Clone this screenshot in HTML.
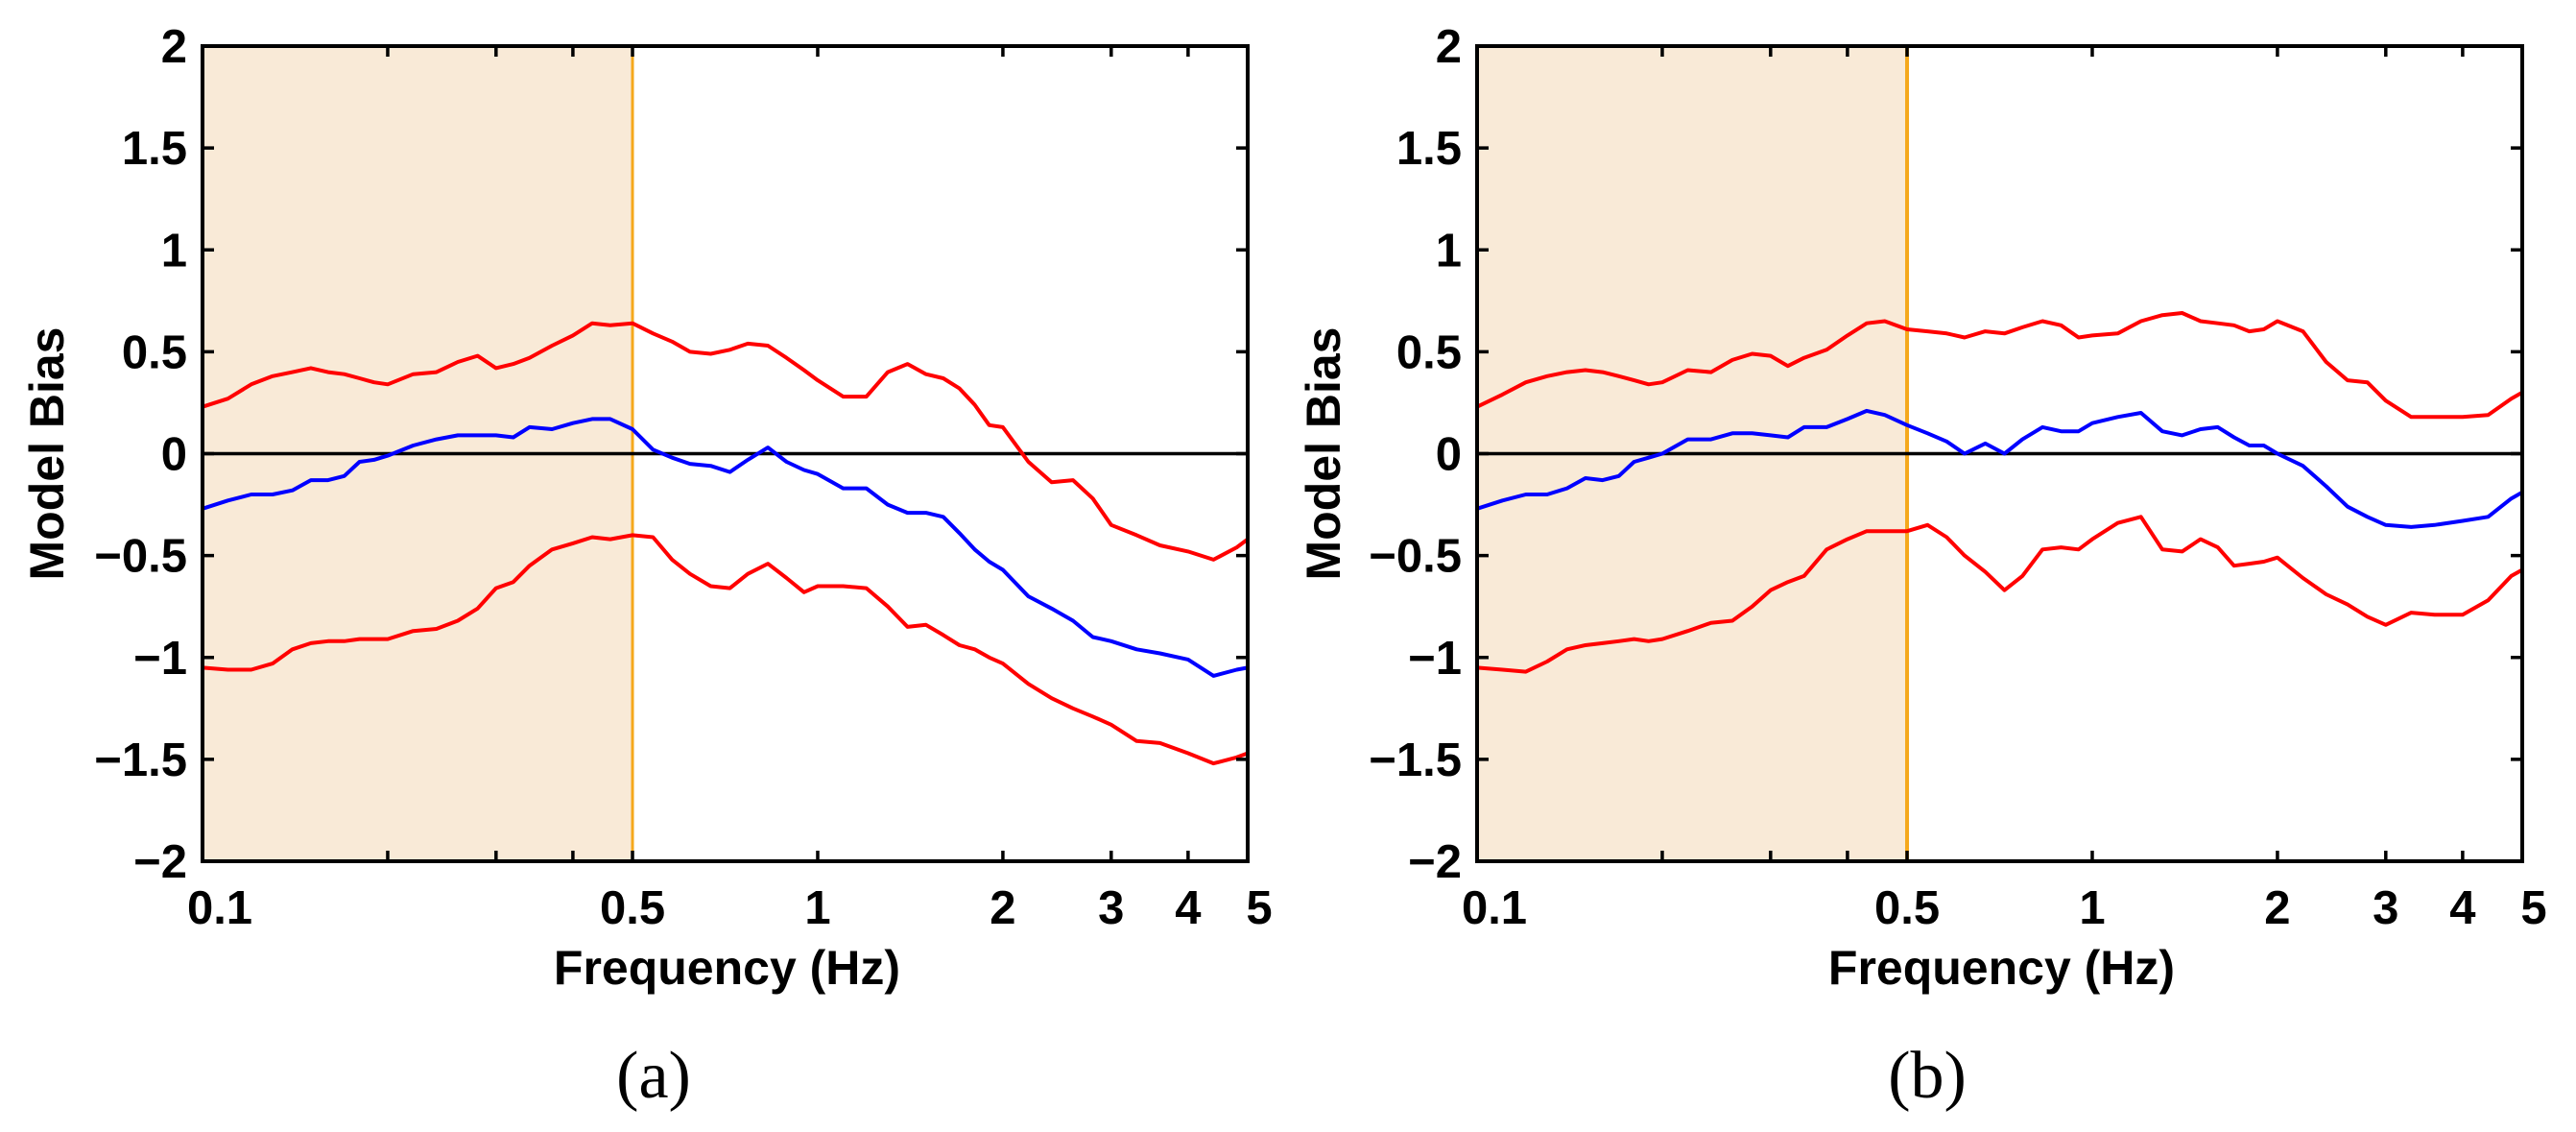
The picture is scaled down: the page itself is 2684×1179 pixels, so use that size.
<!DOCTYPE html>
<html><head><meta charset="utf-8"><style>
html,body{margin:0;padding:0;background:#fff;}
svg{display:block;}
.tk{font-family:"Liberation Sans",sans-serif;font-weight:bold;font-size:49px;fill:#000;}
.ttl{font-family:"Liberation Sans",sans-serif;font-weight:bold;font-size:50px;fill:#000;}
.cap{font-family:"Liberation Serif",serif;font-size:70px;fill:#000;}
</style></head><body>
<svg id="chart" width="2684" height="1179" viewBox="0 0 2684 1179" xmlns="http://www.w3.org/2000/svg"></svg>
<script>
const freqs=[0.10,0.11,0.12,0.13,0.14,0.15,0.16,0.17,0.18,0.19,0.20,0.22,0.24,0.26,0.28,0.30,0.32,0.34,0.37,0.40,0.43,0.46,0.50,0.54,0.58,0.62,0.67,0.72,0.77,0.83,0.89,0.95,1.0,1.1,1.2,1.3,1.4,1.5,1.6,1.7,1.8,1.9,2.0,2.2,2.4,2.6,2.8,3.0,3.3,3.6,4.0,4.4,4.8,5.0];
const aUpper=[0.23,0.27,0.34,0.38,0.40,0.42,0.40,0.39,0.37,0.35,0.34,0.39,0.40,0.45,0.48,0.42,0.44,0.47,0.53,0.58,0.64,0.63,0.64,0.59,0.55,0.50,0.49,0.51,0.54,0.53,0.47,0.41,0.36,0.28,0.28,0.40,0.44,0.39,0.37,0.32,0.24,0.14,0.13,-0.04,-0.14,-0.13,-0.22,-0.35,-0.40,-0.45,-0.48,-0.52,-0.46,-0.42];
const aMean=[-0.27,-0.23,-0.20,-0.20,-0.18,-0.13,-0.13,-0.11,-0.04,-0.03,-0.01,0.04,0.07,0.09,0.09,0.09,0.08,0.13,0.12,0.15,0.17,0.17,0.12,0.02,-0.02,-0.05,-0.06,-0.09,-0.03,0.03,-0.04,-0.08,-0.10,-0.17,-0.17,-0.25,-0.29,-0.29,-0.31,-0.39,-0.47,-0.53,-0.57,-0.70,-0.76,-0.82,-0.90,-0.92,-0.96,-0.98,-1.01,-1.09,-1.06,-1.05];
const aLower=[-1.05,-1.06,-1.06,-1.03,-0.96,-0.93,-0.92,-0.92,-0.91,-0.91,-0.91,-0.87,-0.86,-0.82,-0.76,-0.66,-0.63,-0.55,-0.47,-0.44,-0.41,-0.42,-0.40,-0.41,-0.52,-0.59,-0.65,-0.66,-0.59,-0.54,-0.61,-0.68,-0.65,-0.65,-0.66,-0.75,-0.85,-0.84,-0.89,-0.94,-0.96,-1.00,-1.03,-1.13,-1.20,-1.25,-1.29,-1.33,-1.41,-1.42,-1.47,-1.52,-1.49,-1.47];
const bUpper=[0.23,0.29,0.35,0.38,0.40,0.41,0.40,0.38,0.36,0.34,0.35,0.41,0.40,0.46,0.49,0.48,0.43,0.47,0.51,0.58,0.64,0.65,0.61,0.60,0.59,0.57,0.60,0.59,0.62,0.65,0.63,0.57,0.58,0.59,0.65,0.68,0.69,0.65,0.64,0.63,0.60,0.61,0.65,0.60,0.45,0.36,0.35,0.26,0.18,0.18,0.18,0.19,0.27,0.30];
const bMean=[-0.27,-0.23,-0.20,-0.20,-0.17,-0.12,-0.13,-0.11,-0.04,-0.02,0.00,0.07,0.07,0.10,0.10,0.09,0.08,0.13,0.13,0.17,0.21,0.19,0.14,0.10,0.06,0.00,0.05,0.00,0.07,0.13,0.11,0.11,0.15,0.18,0.20,0.11,0.09,0.12,0.13,0.08,0.04,0.04,0.00,-0.06,-0.16,-0.26,-0.31,-0.35,-0.36,-0.35,-0.33,-0.31,-0.22,-0.19];
const bLower=[-1.05,-1.06,-1.07,-1.02,-0.96,-0.94,-0.93,-0.92,-0.91,-0.92,-0.91,-0.87,-0.83,-0.82,-0.75,-0.67,-0.63,-0.60,-0.47,-0.42,-0.38,-0.38,-0.38,-0.35,-0.41,-0.50,-0.58,-0.67,-0.60,-0.47,-0.46,-0.47,-0.42,-0.34,-0.31,-0.47,-0.48,-0.42,-0.46,-0.55,-0.54,-0.53,-0.51,-0.61,-0.69,-0.74,-0.80,-0.84,-0.78,-0.79,-0.79,-0.72,-0.60,-0.57];
const yTicks=[-2,-1.5,-1,-0.5,0,0.5,1,1.5,2];
const yTickLabels=["\u22122","\u22121.5","\u22121","\u22120.5","0","0.5","1","1.5","2"];
const xLabelVals=[0.1,0.5,1,2,3,4,5];
const xLabelText=["0.1","0.5","1","2","3","4","5"];
const xTickVals=[0.2,0.3,0.4,0.5,1,2,3,4];
const shadeEnd=0.5;

const NS="http://www.w3.org/2000/svg";
const svg=document.getElementById('chart');
function mk(tag,attrs,parent){const e=document.createElementNS(NS,tag);for(const k in attrs)e.setAttribute(k,attrs[k]);(parent||svg).appendChild(e);return e;}

const Y0=48,Y1=897;
function panel(id,X0,X1,series,cap,orangeW,yLabX,capX){
  const g=mk('g',{});
  
  
  const xs=f=>X0+(Math.log10(f)-Math.log10(0.1))/(Math.log10(5)-Math.log10(0.1))*(X1-X0);
  const ys=v=>Y1-(v+2)/4*(Y1-Y0);
  const sh=mk('rect',{x:X0,y:Y0,width:xs(shadeEnd)-X0,height:Y1-Y0,fill:'#f9ead7'},g);
  
  
  const ol=mk('line',{x1:xs(shadeEnd),x2:xs(shadeEnd),y1:Y0,y2:Y1,stroke:'#f5a81c','stroke-width':orangeW},g);
  
  
  const zl=mk('line',{x1:X0,x2:X1,y1:ys(0),y2:ys(0),stroke:'#000','stroke-width':3.5},g);
  
  
  const cols=['#ff0000','#0000ff','#ff0000'];
  const names=['upper-bound-line','mean-bias-line','lower-bound-line'];
  series.forEach((s,i)=>{
    const d=s.map((v,j)=>(j?'L':'M')+xs(freqs[j]).toFixed(1)+' '+ys(v).toFixed(1)).join(' ');
    const p=mk('path',{d:d,fill:'none',stroke:cols[i],'stroke-width':4,'stroke-linejoin':'round'},g);
    
    
  });
  const fr=mk('rect',{x:X0,y:Y0,width:X1-X0,height:Y1-Y0,fill:'none',stroke:'#000','stroke-width':4},g);
  
  
  yTicks.forEach((v,i)=>{
    const y=ys(v);
    mk('line',{x1:X0,x2:X0+12,y1:y,y2:y,stroke:'#000','stroke-width':3.5},g);
    mk('line',{x1:X1-12,x2:X1,y1:y,y2:y,stroke:'#000','stroke-width':3.5},g);
    const t=mk('text',{x:X0-16,y:y+17,'text-anchor':'end',class:'tk'},g);
    t.textContent=yTickLabels[i];
    
    
  });
  xTickVals.forEach(f=>{
    const x=xs(f);
    mk('line',{x1:x,x2:x,y1:Y1,y2:Y1-11,stroke:'#000','stroke-width':3.5},g);
    mk('line',{x1:x,x2:x,y1:Y0,y2:Y0+11,stroke:'#000','stroke-width':3.5},g);
  });
  xLabelVals.forEach((f,i)=>{
    const t=mk('text',{x:xs(f)+(i==0?18:(i==xLabelVals.length-1?12:0)),y:962,'text-anchor':'middle',class:'tk'},g);
    t.textContent=xLabelText[i];
    
    
  });
  const xt=mk('text',{x:(X0+X1)/2+2,y:1025,'text-anchor':'middle',class:'ttl'},g);
  xt.textContent='Frequency (Hz)';
  
  
  const yt=mk('text',{x:0,y:0,'text-anchor':'middle',class:'ttl',transform:'translate('+(yLabX+17)+','+((Y0+Y1)/2)+') rotate(-90)'},g);
  yt.textContent='Model Bias';
  
  
  const c=mk('text',{x:capX,y:1143,'text-anchor':'middle',class:'cap'},g);
  c.textContent=cap;
  
  
}
panel('a',211,1300,[aUpper,aMean,aLower],'(a)',3,49,681);
panel('b',1539,2628,[bUpper,bMean,bLower],'(b)',4,1379,2008);
</script>
</body></html>
